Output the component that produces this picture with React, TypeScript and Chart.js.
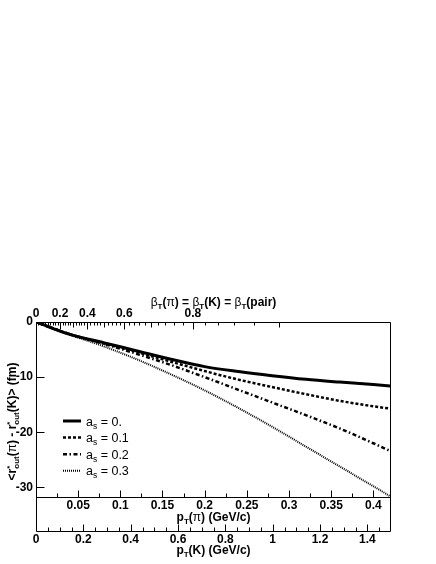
import React, { useEffect, useRef } from "react";
import { Chart, registerables } from "chart.js";

Chart.register(...registerables);

// ---- data ----
const M_PI = 0.13957;

const pT = [0, 0.04, 0.08, 0.12, 0.16, 0.2, 0.24, 0.28, 0.32, 0.36, 0.4, 0.42];
const drAs00 = [0, -2.25, -3.75, -5.25, -6.75, -8.1, -9.0, -9.75, -10.4, -10.9, -11.35, -11.6];
const drAs01 = [0, -2.2, -3.85, -5.45, -7.2, -8.9, -10.45, -11.8, -13.1, -14.3, -15.3, -15.7];
const drAs02 = [0, -2.2, -3.95, -5.8, -7.8, -10.0, -12.3, -14.6, -16.9, -19.3, -22.0, -23.4];
const drAs03 = [0, -2.3, -4.4, -6.8, -9.5, -12.4, -15.6, -19.0, -22.6, -26.2, -29.8, -31.6];

const asLabels = ["0.", "0.1", "0.2", "0.3"];

const xPiTicks = [0.05, 0.1, 0.15, 0.2, 0.25, 0.3, 0.35, 0.4];
const xPiLabels = ["0.05", "0.1", "0.15", "0.2", "0.25", "0.3", "0.35", "0.4"];
const xKTicks = [0, 0.2, 0.4, 0.6, 0.8, 1.0, 1.2, 1.4];
const xKLabels = ["0", "0.2", "0.4", "0.6", "0.8", "1", "1.2", "1.4"];
const betaTicks = [0, 0.2, 0.4, 0.6, 0.8];
const betaLabels = ["0", "0.2", "0.4", "0.6", "0.8"];
const yTicks = [0, -10, -20, -30];
const yLabels = ["0", "-10", "-20", "-30"];

const X_PI_MAX = 0.421;
const X_K_MAX = 1.5;
const BETA_MINOR_MAX = 0.9;
const Y_MIN = -31.75;
const Y_MAX = 0;

// ---- helpers ----
const FAMILY = "'Liberation Sans', Arial, Helvetica, sans-serif";
const betaToP = (b: number) => (M_PI * b) / Math.sqrt(1 - b * b);

type Seg = { t?: string; sup?: string; sub?: string; size: number; bold?: boolean; dy?: number; supDy?: number; subDy?: number };

const segFont = (size: number, bold?: boolean) => `${bold ? "bold " : ""}${size}px ${FAMILY}`;

function segWidth(ctx: CanvasRenderingContext2D, s: Seg) {
  ctx.font = segFont(s.size, s.bold);
  if (s.sup !== undefined || s.sub !== undefined) {
    return Math.max(s.sup ? ctx.measureText(s.sup).width : 0, s.sub ? ctx.measureText(s.sub).width : 0);
  }
  return ctx.measureText(s.t || "").width;
}

function drawRich(ctx: CanvasRenderingContext2D, segs: Seg[], x0: number, baseY: number, align: "center" | "left") {
  const widths = segs.map((s) => segWidth(ctx, s));
  const total = widths.reduce((a, b) => a + b, 0);
  let x = align === "center" ? x0 - total / 2 : x0;
  ctx.textAlign = "left";
  ctx.textBaseline = "alphabetic";
  segs.forEach((s, i) => {
    ctx.font = segFont(s.size, s.bold);
    if (s.sup !== undefined || s.sub !== undefined) {
      if (s.sup) ctx.fillText(s.sup, x, baseY - (s.supDy || 0));
      if (s.sub) ctx.fillText(s.sub, x, baseY + (s.subDy || 0));
    } else {
      ctx.fillText(s.t || "", x, baseY + (s.dy || 0));
    }
    x += widths[i];
  });
}

const B12 = 12;
const SUB = 8;

const piTitle: Seg[] = [
  { t: "p", size: B12, bold: true },
  { t: "T", size: SUB, bold: true, dy: 3 },
  { t: "(", size: B12, bold: true },
  { t: "π", size: B12 },
  { t: ") (GeV/c)", size: B12, bold: true },
];
const kTitle: Seg[] = [
  { t: "p", size: B12, bold: true },
  { t: "T", size: SUB, bold: true, dy: 3 },
  { t: "(K) (GeV/c)", size: B12, bold: true },
];
const betaTitle: Seg[] = [
  { t: "β", size: B12 },
  { t: "T", size: SUB, bold: true, dy: 3 },
  { t: "(", size: B12, bold: true },
  { t: "π", size: B12 },
  { t: ") = ", size: B12, bold: true },
  { t: "β", size: B12 },
  { t: "T", size: SUB, bold: true, dy: 3 },
  { t: "(K) = ", size: B12, bold: true },
  { t: "β", size: B12 },
  { t: "T", size: SUB, bold: true, dy: 3 },
  { t: "(pair)", size: B12, bold: true },
];
const yTitle: Seg[] = [
  { t: "<r", size: B12, bold: true },
  { sup: "*", sub: "out", size: SUB, bold: true, supDy: 4, subDy: 3 },
  { t: "(", size: B12, bold: true },
  { t: "π", size: B12 },
  { t: ") - r", size: B12, bold: true },
  { sup: "*", sub: "out", size: SUB, bold: true, supDy: 4, subDy: 3 },
  { t: "(K)> (fm)", size: B12, bold: true },
];

const overlay = {
  id: "overlay",
  afterDraw(chart: any) {
    const { ctx, chartArea: a, scales } = chart;
    const sx = scales.x;
    const sy = scales.y;
    const sk = scales.xK;
    const L = Math.round(a.left) + 0.5;
    const R = Math.round(a.right) - 0.5;
    const T = Math.round(a.top) + 0.5;
    const B = Math.round(a.bottom) + 0.5;
    const K = Math.round(sk.top) + 0.5;
    ctx.save();
    ctx.strokeStyle = "#000";
    ctx.lineWidth = 1;
    ctx.setLineDash([]);
    ctx.beginPath();
    ctx.moveTo(L, T); ctx.lineTo(R, T);
    ctx.moveTo(L, T); ctx.lineTo(L, K);
    ctx.moveTo(R, T); ctx.lineTo(R, K);
    ctx.moveTo(L, B); ctx.lineTo(R, B);
    ctx.moveTo(L, K); ctx.lineTo(R, K);
    yTicks.forEach((v) => {
      const py = Math.round(sy.getPixelForValue(v)) + 0.5;
      ctx.moveTo(L, py); ctx.lineTo(L + 8, py);
    });
    for (let i = 1; i * 0.025 < X_PI_MAX; i++) {
      const px = Math.round(sx.getPixelForValue(i * 0.025)) + 0.5;
      const len = i % 2 === 0 ? 7 : 4;
      ctx.moveTo(px, B); ctx.lineTo(px, B - len);
    }
    for (let i = 1; i * 0.05 < X_K_MAX - 1e-9; i++) {
      const px = Math.round(sk.getPixelForValue(i * 0.05)) + 0.5;
      const len = i % 4 === 0 ? 7 : 4;
      ctx.moveTo(px, K); ctx.lineTo(px, K - len);
    }
    for (let i = 1; i * 0.02 <= BETA_MINOR_MAX + 1e-9; i++) {
      const px = Math.round(sx.getPixelForValue(betaToP(i * 0.02))) + 0.5;
      const len = i % 10 === 0 ? 7 : i % 5 === 0 ? 5 : 3;
      ctx.moveTo(px, T); ctx.lineTo(px, T + len);
    }
    ctx.stroke();

    ctx.fillStyle = "#000";
    const cx = (a.left + a.right) / 2;
    drawRich(ctx, betaTitle, cx, a.top - 16, "center");
    drawRich(ctx, piTitle, cx, a.bottom + 24, "center");
    drawRich(ctx, kTitle, cx, sk.top + 23, "center");

    ctx.save();
    ctx.translate(16, (a.top + a.bottom) / 2 + 12);
    ctx.rotate(-Math.PI / 2);
    drawRich(ctx, yTitle, 0, 0, "center");
    ctx.restore();

    // legend
    const lx = a.left + 27;
    const ly0 = a.top + 99;
    const dyRow = 16.6;
    chart.data.datasets.forEach((ds: any, i: number) => {
      const y = ly0 + i * dyRow;
      ctx.strokeStyle = "#000";
      ctx.lineWidth = ds.borderWidth;
      ctx.setLineDash(ds.borderDash || []);
      ctx.lineCap = "butt";
      ctx.beginPath();
      ctx.moveTo(lx, y);
      ctx.lineTo(lx + 18, y);
      ctx.stroke();
      ctx.setLineDash([]);
      drawRich(
        ctx,
        [
          { t: "a", size: 12.5 },
          { t: "s", size: 8.5, dy: 3 },
          { t: " = " + asLabels[i], size: 12.5 },
        ],
        lx + 23,
        y + 4.5,
        "left"
      );
    });
    ctx.restore();
  },
};

const tickFont = { family: FAMILY, size: 12, weight: "bold" as const };

export default function App() {
  const ref = useRef<HTMLCanvasElement | null>(null);
  useEffect(() => {
    if (!ref.current) return;
    const mk = (vals: number[]) => pT.map((p, i) => ({ x: p, y: vals[i] }));
    const chart = new Chart(ref.current, {
      type: "line",
      data: {
        datasets: [
          { label: "a_s = 0.", data: mk(drAs00), borderColor: "#000", borderWidth: 3, borderDash: [] },
          { label: "a_s = 0.1", data: mk(drAs01), borderColor: "#000", borderWidth: 2.5, borderDash: [3, 2] },
          { label: "a_s = 0.2", data: mk(drAs02), borderColor: "#000", borderWidth: 2.5, borderDash: [4, 2.5, 1.5, 2.5] },
          { label: "a_s = 0.3", data: mk(drAs03), borderColor: "#000", borderWidth: 2, borderDash: [1, 1] },
        ].map((d) => ({
          ...d,
          pointRadius: 0,
          fill: false,
          cubicInterpolationMode: "monotone" as const,
          borderCapStyle: "butt" as const,
          xAxisID: "x",
          yAxisID: "y",
        })),
      },
      options: {
        responsive: false,
        animation: false,
        layout: { padding: { left: 0, right: 45, top: 295, bottom: 5 } },
        plugins: { legend: { display: false }, tooltip: { enabled: false } },
        scales: {
          x: {
            type: "linear",
            position: "bottom",
            min: 0,
            max: X_PI_MAX,
            weight: 0,
            grid: { display: false, drawTicks: false },
            border: { display: false },
            afterBuildTicks: (s: any) => { s.ticks = xPiTicks.map((v) => ({ value: v })); },
            afterFit: (s: any) => { s.height = 34; },
            ticks: { font: tickFont, color: "#000", padding: 1, maxRotation: 0, autoSkip: false, callback: (_v: any, i: number) => xPiLabels[i] },
          },
          xK: {
            type: "linear",
            position: "bottom",
            min: 0,
            max: X_K_MAX,
            weight: 1,
            grid: { display: false, drawTicks: false },
            border: { display: false },
            afterBuildTicks: (s: any) => { s.ticks = xKTicks.map((v) => ({ value: v })); },
            afterFit: (s: any) => { s.height = 28; },
            ticks: { font: tickFont, color: "#000", padding: 1, maxRotation: 0, autoSkip: false, callback: (_v: any, i: number) => xKLabels[i] },
          },
          xB: {
            type: "linear",
            position: "top",
            min: 0,
            max: X_PI_MAX,
            grid: { display: false, drawTicks: false },
            border: { display: false },
            afterBuildTicks: (s: any) => { s.ticks = betaTicks.map((b) => ({ value: betaToP(b) })); },
            afterFit: (s: any) => { s.height = 27; },
            ticks: { font: tickFont, color: "#000", padding: 1, maxRotation: 0, autoSkip: false, callback: (_v: any, i: number) => betaLabels[i] },
          },
          y: {
            type: "linear",
            position: "left",
            min: Y_MIN,
            max: Y_MAX,
            grid: { display: false, drawTicks: false },
            border: { display: false },
            afterBuildTicks: (s: any) => { s.ticks = yTicks.map((v) => ({ value: v })); },
            afterFit: (s: any) => { s.width = 36; },
            ticks: { font: tickFont, color: "#000", padding: 3, autoSkip: false, callback: (_v: any, i: number) => yLabels[i] },
          },
        },
      },
      plugins: [overlay],
    } as any);
    return () => chart.destroy();
  }, []);
  return (
    <div style={{ position: "absolute", left: 0, top: 0, width: 436, height: 564 }}>
      <canvas ref={ref} width={436} height={564} />
    </div>
  );
}
